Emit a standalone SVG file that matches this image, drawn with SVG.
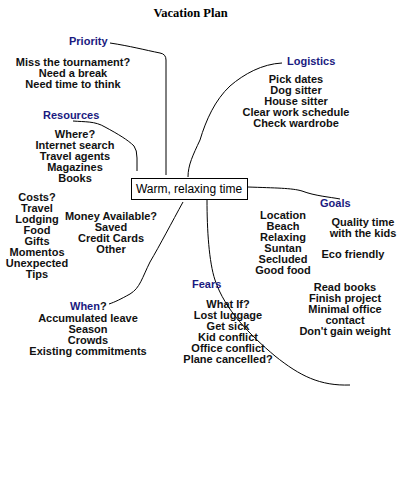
<svg xmlns="http://www.w3.org/2000/svg" width="400" height="500" viewBox="0 0 400 500">
<style>
.t{font-family:"Liberation Sans",Arial,sans-serif;font-size:11px;font-weight:bold;fill:#111;text-anchor:middle}
.h{font-family:"Liberation Sans",Arial,sans-serif;font-size:11px;font-weight:bold;fill:#1a1a80}
.c{fill:none;stroke:#000;stroke-width:1}
</style>
<rect width="400" height="500" fill="#fff"/>
<text x="190.5" y="17" font-family="'Liberation Serif','Times New Roman',serif" font-size="12.5" font-weight="bold" text-anchor="middle" fill="#000">Vacation Plan</text>
<g id="connectors">
<path class="c" d="M110,43 C130,46 145,50 160,53 Q166,54 166,60 L166,175"/>
<path class="c" d="M73,121 C85,122 95,121 105,127 C118,134 128,140 134,146 Q137,150 137,158 L137,171"/>
<path class="c" d="M282,63 C262,64 244,74 230,86 C215,100 206,120 200,140 C193,155 188,165 188,177"/>
<path class="c" d="M248,187 C275,188 292,188 302,191 C315,196 330,197 340,199"/>
<path class="c" d="M207,200 C207,230 209,262 215,280 C225,310 250,335 275,356 C300,376 320,386 350,385"/>
<path class="c" d="M183,202 C172,222 160,245 150,262 C142,278 140,288 130,294 C121,299 115,302 109,304"/>
</g>
<g id="center">
<rect x="131.5" y="178.5" width="116" height="21" fill="#fff" stroke="#000"/>
<text x="189" y="193" font-family="'Liberation Sans',Arial,sans-serif" font-size="12" text-anchor="middle" fill="#000">Warm, relaxing time</text>
</g>
<g id="priority">
<text class="h" x="69" y="45">Priority</text>
<text class="t" x="73" y="66">Miss the tournament?</text>
<text class="t" x="73" y="77">Need a break</text>
<text class="t" x="73" y="88">Need time to think</text>
</g>
<g id="resources">
<text class="h" x="43" y="119">Resources</text>
<text class="t" x="75" y="138">Where?</text>
<text class="t" x="75" y="149">Internet search</text>
<text class="t" x="75" y="160">Travel agents</text>
<text class="t" x="75" y="171">Magazines</text>
<text class="t" x="75" y="182">Books</text>
</g>
<g id="costs">
<text class="t" x="37" y="201">Costs?</text>
<text class="t" x="37" y="212">Travel</text>
<text class="t" x="37" y="223">Lodging</text>
<text class="t" x="37" y="234">Food</text>
<text class="t" x="37" y="245">Gifts</text>
<text class="t" x="37" y="256">Momentos</text>
<text class="t" x="37" y="267">Unexpected</text>
<text class="t" x="37" y="278">Tips</text>
</g>
<g id="money">
<text class="t" x="111" y="220">Money Available?</text>
<text class="t" x="111" y="231">Saved</text>
<text class="t" x="111" y="242">Credit Cards</text>
<text class="t" x="111" y="253">Other</text>
</g>
<g id="logistics">
<text class="h" x="287" y="65">Logistics</text>
<text class="t" x="296" y="83">Pick dates</text>
<text class="t" x="296" y="94">Dog sitter</text>
<text class="t" x="296" y="105">House sitter</text>
<text class="t" x="296" y="116">Clear work schedule</text>
<text class="t" x="296" y="127">Check wardrobe</text>
</g>
<g id="goals">
<text class="h" x="320" y="207">Goals</text>
<text class="t" x="283" y="219">Location</text>
<text class="t" x="283" y="230">Beach</text>
<text class="t" x="283" y="241">Relaxing</text>
<text class="t" x="283" y="252">Suntan</text>
<text class="t" x="283" y="263">Secluded</text>
<text class="t" x="283" y="274">Good food</text>
<text class="t" x="363" y="226">Quality time</text>
<text class="t" x="363" y="237">with the kids</text>
<text class="t" x="353" y="258">Eco friendly</text>
<text class="t" x="345" y="291">Read books</text>
<text class="t" x="345" y="302">Finish project</text>
<text class="t" x="345" y="313">Minimal office</text>
<text class="t" x="345" y="324">contact</text>
<text class="t" x="345" y="335">Don't gain weight</text>
</g>
<g id="fears">
<text class="h" x="192" y="288">Fears</text>
<text class="t" x="228" y="308">What If?</text>
<text class="t" x="228" y="319">Lost luggage</text>
<text class="t" x="228" y="330">Get sick</text>
<text class="t" x="228" y="341">Kid conflict</text>
<text class="t" x="228" y="352">Office conflict</text>
<text class="t" x="228" y="363">Plane cancelled?</text>
</g>
<g id="when">
<text class="h" x="70" y="310">When<tspan fill="#111">?</tspan></text>
<text class="t" x="88" y="322">Accumulated leave</text>
<text class="t" x="88" y="333">Season</text>
<text class="t" x="88" y="344">Crowds</text>
<text class="t" x="88" y="355">Existing commitments</text>
</g>
</svg>
